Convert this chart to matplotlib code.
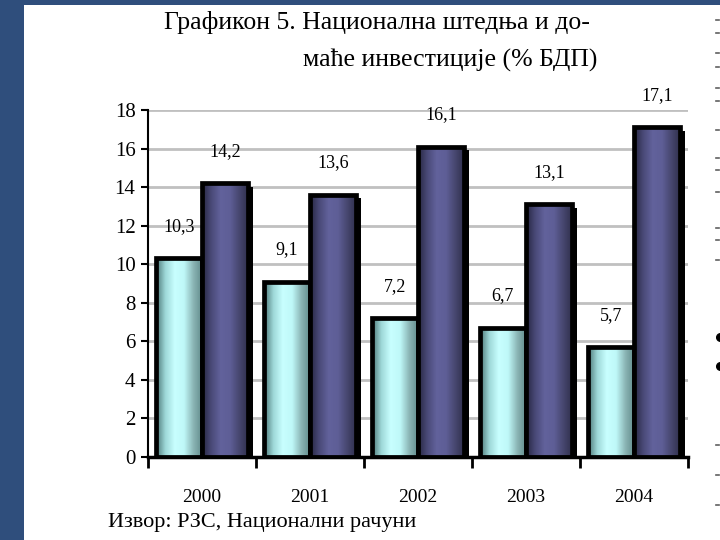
import numpy as np
import matplotlib
matplotlib.use("Agg")
import matplotlib.pyplot as plt
from matplotlib.colors import LinearSegmentedColormap
from matplotlib.patches import Rectangle
from matplotlib.lines import Line2D
import matplotlib.patheffects as pe

years = ["2000", "2001", "2002", "2003", "2004"]
savings = [10.3, 9.1, 7.2, 6.7, 5.7]
investment = [14.2, 13.6, 16.1, 13.1, 17.1]
savings_labels = ["10,3", "9,1", "7,2", "6,7", "5,7"]
investment_labels = ["14,2", "13,6", "16,1", "13,1", "17,1"]
yticks = [0, 2, 4, 6, 8, 10, 12, 14, 16, 18]

title1 = "Графикон 5. Национална штедња и до-"
title2 = "маће инвестиције (% БДП)"
source = "Извор: РЗС, Национални рачуни"

SERIF = ["Liberation Serif", "DejaVu Serif"]
plt.rcParams["font.family"] = SERIF

fig = plt.figure(figsize=(7.2, 5.4), dpi=100)
fig.patch.set_facecolor("#2F4E7C")
bg = Rectangle((24 / 720, 0), 1 - 24 / 720, 1 - 5 / 540,
               transform=fig.transFigure, facecolor="white",
               edgecolor="none", zorder=-10)
fig.add_artist(bg)

ax = fig.add_axes([148 / 720, 1 - 457 / 540, 540 / 720, 347 / 540])
ax.set_facecolor("none")
ax.set_zorder(1)

x = np.arange(len(years))
w = 0.43

cyan_cmap = LinearSegmentedColormap.from_list(
    "cy", ["#4A7474", "#9ED8D8", "#C8FFFF", "#BFF8F8", "#8AB4B4", "#5E8888"])
purple_cmap = LinearSegmentedColormap.from_list(
    "pu", ["#262640", "#4A4A78", "#62629C", "#5E5E96", "#46466E", "#2E2E4A"])

grad = np.linspace(0, 1, 256).reshape(1, -1)

def draw_series(xs, vals, cmap, z):
    bars = ax.bar(xs, vals, width=w, color="black", edgecolor="none", zorder=z,
                  path_effects=[pe.SimplePatchShadow(offset=(3.5, -2.5),
                                                     shadow_rgbFace="black", alpha=1.0),
                                pe.Normal()])
    for b in bars:
        x0, y0 = b.get_x(), b.get_y()
        bw, bh = b.get_width(), b.get_height()
        im = ax.imshow(grad, cmap=cmap, aspect="auto",
                       extent=[x0, x0 + bw, y0, y0 + bh], zorder=z + 0.1,
                       interpolation="bilinear")
        im.set_clip_path(b)
    ax.bar(xs, vals, width=w, facecolor="none", edgecolor="black",
           linewidth=3.4, zorder=z + 0.2)
    return bars

draw_series(x - w / 2, savings, cyan_cmap, 2)
draw_series(x + w / 2, investment, purple_cmap, 3)

for xi, v, lab in zip(x - w / 2, savings, savings_labels):
    ax.annotate(lab, (xi, v), xytext=(0, 23), textcoords="offset points",
                ha="center", va="center", fontsize=13, zorder=6)
for xi, v, lab in zip(x + w / 2, investment, investment_labels):
    ax.annotate(lab, (xi, v), xytext=(0, 23), textcoords="offset points",
                ha="center", va="center", fontsize=13, zorder=6)

ax.set_xlim(-0.5, len(years) - 0.5)
ax.set_ylim(0, 18)
ax.set_yticks(yticks)
ax.set_yticklabels([str(t) for t in yticks], fontsize=15)
ax.tick_params(axis="y", direction="out", length=5, width=1.5, pad=4)

ax.set_xticks(np.arange(-0.5, len(years), 1.0))
ax.set_xticklabels([])
ax.tick_params(axis="x", which="major", direction="out", length=8, width=2)
ax.set_xticks(x, minor=True)
ax.set_xticklabels(years, minor=True, fontsize=14)
ax.tick_params(axis="x", which="minor", length=0, pad=23)

ax.yaxis.grid(True, color="#C0C0C0", linewidth=2)
ax.set_axisbelow(True)
for s in ["top", "right"]:
    ax.spines[s].set_visible(False)
ax.spines["left"].set_linewidth(1.5)
ax.spines["bottom"].set_linewidth(2.5)
ax.spines["left"].set_zorder(5)
ax.spines["bottom"].set_zorder(5)

fig.text(377 / 720, 1 - 22 / 540, title1, ha="center", va="center", fontsize=18.5)
fig.text(450 / 720, 1 - 60 / 540, title2, ha="center", va="center", fontsize=18.5)
fig.text(108 / 720, 1 - 523 / 540, source, ha="left", va="center", fontsize=16)

# edge of the slide's cut-off right-hand column: small glyph fragments
frag_y = [20, 33, 53, 67, 88, 101, 130, 158, 170, 192, 228, 240, 260, 445, 475, 505]
for yy in frag_y:
    fig.add_artist(Line2D([716 / 720, 719 / 720], [1 - yy / 540, 1 - yy / 540],
                          transform=fig.transFigure, color="#606060", lw=1.2))
for yy in [337, 366]:
    fig.add_artist(Line2D([719.5 / 720], [1 - yy / 540], transform=fig.transFigure,
                          marker="o", markersize=5.5, color="black", lw=0))

fig.savefig("out.png", dpi=100)
